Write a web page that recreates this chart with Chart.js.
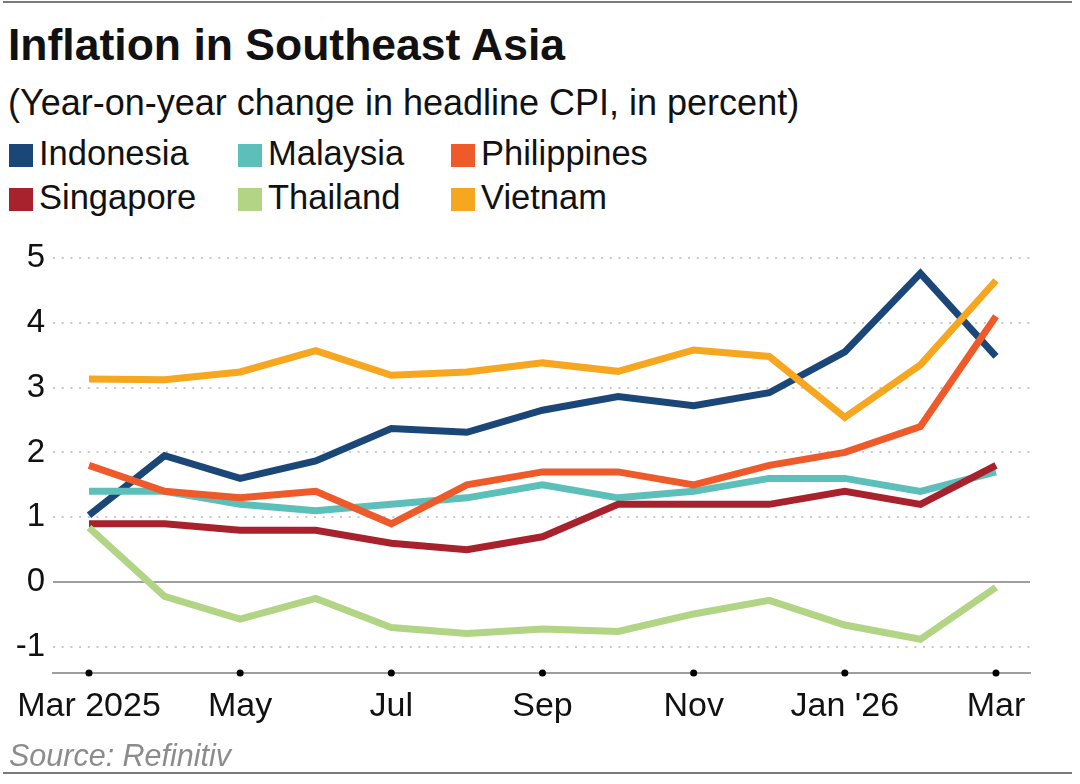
<!DOCTYPE html>
<html>
<head>
<meta charset="utf-8">
<script src="https://cdn.jsdelivr.net/npm/chart.js@4.4.1/dist/chart.umd.min.js"></script>
<style>
  body { margin: 0; background: #fff; font-family: "Liberation Sans", Arial, sans-serif; color: #111; }
  #wrap { position: relative; width: 1080px; height: 784px; overflow: hidden; }
  .rule { position: absolute; left: 3px; width: 1069px; height: 2px; background: #7a7a7a; }
  #title { position: absolute; left: 8px; top: 23px; font-size: 44.5px; line-height: 44px; font-weight: bold; }
  #subtitle { position: absolute; left: 8px; top: 85px; font-size: 36px; line-height: 36px; }
  .leg { position: absolute; font-size: 34.5px; line-height: 34px; white-space: nowrap; }
  .leg span { display: inline-block; width: 24px; height: 23px; margin-right: 6px; vertical-align: -2px; }
  #source { position: absolute; left: 9px; top: 740px; font-size: 30.5px; line-height: 30px; font-style: italic; color: #8c8c8c; }
  #chart { position: absolute; left: 0; top: 230px; }
</style>
</head>
<body>
<div id="wrap">
  <div class="rule" style="top:1px"></div>
  <div id="title">Inflation in Southeast Asia</div>
  <div id="subtitle">(Year-on-year change in headline CPI, in percent)</div>
  <div id="legend"></div>
  <canvas id="chart" width="1080" height="520"></canvas>
  <div id="source">Source: Refinitiv</div>
  <div class="rule" style="top:772px"></div>
</div>
<script>
const months = ['Mar 2025', 'Apr', 'May', 'Jun', 'Jul', 'Aug', 'Sep', 'Oct', 'Nov', 'Dec', "Jan '26", 'Feb', 'Mar'];
const xTickIdx = [0, 2, 4, 6, 8, 10, 12];
const yTicks = [-1, 0, 1, 2, 3, 4, 5];

const countries = ['Indonesia', 'Malaysia', 'Philippines', 'Singapore', 'Thailand', 'Vietnam'];
const colors = ['#1a4777', '#5cbfba', '#ee5a2a', '#a8222d', '#b1d584', '#f6a61f'];

const indonesia   = [1.03, 1.95, 1.6, 1.87, 2.37, 2.31, 2.65, 2.86, 2.72, 2.92, 3.55, 4.76, 3.48];
const malaysia    = [1.4, 1.4, 1.2, 1.1, 1.2, 1.3, 1.5, 1.3, 1.4, 1.6, 1.6, 1.4, 1.7];
const philippines = [1.8, 1.4, 1.3, 1.4, 0.9, 1.5, 1.7, 1.7, 1.5, 1.8, 2.0, 2.4, 4.1];
const singapore   = [0.9, 0.9, 0.8, 0.8, 0.6, 0.5, 0.7, 1.2, 1.2, 1.2, 1.4, 1.2, 1.8];
const thailand    = [0.84, -0.22, -0.57, -0.25, -0.7, -0.79, -0.72, -0.76, -0.49, -0.28, -0.66, -0.88, -0.08];
const vietnam     = [3.13, 3.12, 3.24, 3.57, 3.19, 3.24, 3.38, 3.25, 3.58, 3.48, 2.54, 3.35, 4.65];
const series = [indonesia, malaysia, philippines, singapore, thailand, vietnam];

// legend in three columns, built from the same names/colours
const legCols = [9, 238, 451];
const legRows = [136, 180];
const legendEl = document.getElementById('legend');
countries.forEach((name, i) => {
  const d = document.createElement('div');
  d.className = 'leg';
  d.style.left = legCols[i % 3] + 'px';
  d.style.top = legRows[Math.floor(i / 3)] + 'px';
  d.innerHTML = '<span style="background:' + colors[i] + '"></span>' + name;
  legendEl.appendChild(d);
});

// black dots on the x axis at each labelled month
const axisDots = {
  id: 'axisDots',
  afterDraw(chart) {
    const ctx = chart.ctx;
    const x = chart.scales.x;
    const yPos = chart.chartArea.bottom;
    ctx.save();
    ctx.fillStyle = '#000';
    xTickIdx.forEach(i => {
      ctx.beginPath();
      ctx.arc(x.getPixelForValue(i), yPos, 3.5, 0, Math.PI * 2);
      ctx.fill();
    });
    ctx.restore();
  }
};

const fontY = { family: '"Liberation Sans", Arial, sans-serif', size: 33 };
const fontX = { family: '"Liberation Sans", Arial, sans-serif', size: 34 };

new Chart(document.getElementById('chart'), {
  type: 'line',
  data: {
    datasets: countries.map((name, i) => ({
      label: name,
      data: series[i].map((v, j) => ({ x: j, y: v })),
      borderColor: colors[i],
      backgroundColor: colors[i],
      borderWidth: 7,
      pointRadius: 0,
      tension: 0,
      clip: false,
      order: countries.length - i
    }))
  },
  options: {
    responsive: false,
    animation: false,
    layout: { padding: { top: 26, right: 50, left: 0, bottom: 0 } },
    plugins: { legend: { display: false }, tooltip: { enabled: false } },
    scales: {
      x: {
        type: 'linear',
        min: -0.476,
        max: 12.45,
        afterBuildTicks: s => { s.ticks = xTickIdx.map(v => ({ value: v })); },
        afterFit: s => { s.height = 77; },
        grid: { display: false, drawTicks: false },
        border: { display: true, color: '#9e9e9e', width: 2 },
        ticks: {
          autoSkip: false,
          maxRotation: 0,
          padding: 13,
          color: '#111',
          font: fontX,
          callback: v => months[v]
        }
      },
      y: {
        min: -1.4,
        max: 5,
        afterBuildTicks: s => { s.ticks = yTicks.map(v => ({ value: v })); },
        afterFit: s => { s.width = 53; },
        grid: {
          drawTicks: false,
          lineWidth: 2,
          color: c => c.tick && c.tick.value === 0 ? '#a0a0a0' : '#c9c9c9'
        },
        border: {
          display: false,
          dash: c => c.tick && c.tick.value === 0 ? [] : [2, 6.7]
        },
        ticks: { padding: 8, color: '#111', font: fontY }
      }
    }
  },
  plugins: [axisDots]
});
</script>
</body>
</html>
